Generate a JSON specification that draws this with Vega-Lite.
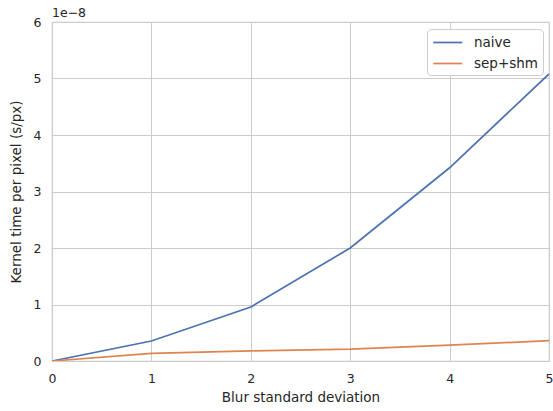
{
  "$schema": "https://vega.github.io/schema/vega-lite/v6.json",
  "width": 497,
  "height": 339,
  "autosize": "none",
  "padding": {"left": 52, "top": 22, "right": 4, "bottom": 50},
  "background": "white",
  "title": {"text": "1e−8", "anchor": "start", "frame": "group", "fontSize": 12.5, "fontWeight": "normal", "font": "DejaVu Sans", "color": "#262626", "offset": -3},
  "data": {"values": [
    {"sigma": 0, "time": 0, "method": "naive"},
    {"sigma": 1, "time": 0.354, "method": "naive"},
    {"sigma": 2, "time": 0.956, "method": "naive"},
    {"sigma": 3, "time": 2.0, "method": "naive"},
    {"sigma": 4, "time": 3.42, "method": "naive"},
    {"sigma": 5, "time": 5.08, "method": "naive"},
    {"sigma": 0, "time": 0, "method": "sep+shm"},
    {"sigma": 1, "time": 0.136, "method": "sep+shm"},
    {"sigma": 2, "time": 0.18, "method": "sep+shm"},
    {"sigma": 3, "time": 0.21, "method": "sep+shm"},
    {"sigma": 4, "time": 0.28, "method": "sep+shm"},
    {"sigma": 5, "time": 0.36, "method": "sep+shm"}
  ]},
  "mark": {"type": "line", "strokeWidth": 1.7, "clip": true},
  "encoding": {
    "x": {"field": "sigma", "type": "quantitative", "scale": {"domain": [0, 5], "nice": false, "zero": false},
      "axis": {"title": "Blur standard deviation", "values": [0,1,2,3,4,5], "format": "d"}},
    "y": {"field": "time", "type": "quantitative", "scale": {"domain": [0, 6], "nice": false},
      "axis": {"title": "Kernel time per pixel (s/px)", "values": [0,1,2,3,4,5,6], "format": "d"}},
    "color": {"field": "method", "type": "nominal",
      "scale": {"domain": ["naive", "sep+shm"], "range": ["#4c72b0", "#dd8452"]},
      "legend": {"title": null, "orient": "none", "legendX": 375, "legendY": 7, "symbolType": "M-1,0H3", "symbolSize": 210, "symbolStrokeWidth": 1.7,
        "fillColor": "white", "strokeColor": "#cccccc", "cornerRadius": 4, "padding": 5, "labelFontSize": 13.5, "rowPadding": 6, "labelOffset": 25}}
  },
  "config": {
    "font": "DejaVu Sans",
    "view": {"stroke": "#cccccc", "strokeWidth": 1.2},
    "axis": {"grid": true, "gridColor": "#cccccc", "gridWidth": 1, "domain": false, "ticks": false, "labelFlush": false, "labelOverlap": false,
      "labelFont": "DejaVu Sans", "labelFontSize": 12.5, "labelColor": "#262626", "labelPadding": 11,
      "titleFont": "DejaVu Sans", "titleFontSize": 13.5, "titleFontWeight": "normal", "titleColor": "#262626", "titlePadding": 6},
    "axisY": {"labelPadding": 11, "titlePadding": 10},
    "legend": {"labelFont": "DejaVu Sans", "labelColor": "#262626"}
  }
}
